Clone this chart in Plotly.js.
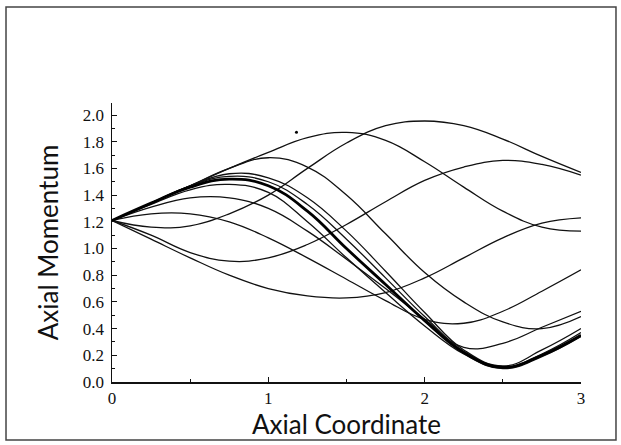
<!DOCTYPE html>
<html>
<head>
<meta charset="utf-8">
<script src="https://cdn.plot.ly/plotly-3.0.1.min.js"></script>
<style>html,body{margin:0;padding:0;background:#fff;}#chart{width:621px;height:445px;}</style>
</head>
<body>
<div id="chart"></div>
<script>
// Axial coordinate samples (shared by all curves)
const xs = [0, 0.25, 0.5, 0.75, 1.0, 1.25, 1.5, 1.75, 2.0, 2.25, 2.5, 2.75, 3.0];

// Axial momentum for each trajectory
const curveA  = [1.21, 1.16, 1.17, 1.26, 1.40, 1.60, 1.79, 1.92, 1.955, 1.92, 1.82, 1.69, 1.57];
const curveB  = [1.21, 1.34, 1.47, 1.60, 1.72, 1.83, 1.87, 1.81, 1.65, 1.46, 1.28, 1.16, 1.13];
const curveC  = [1.21, 1.34, 1.47, 1.60, 1.68, 1.61, 1.40, 1.11, 0.82, 0.60, 0.45, 0.40, 0.49];
const curveD  = [1.21, 1.10, 0.97, 0.905, 0.93, 1.03, 1.18, 1.35, 1.51, 1.61, 1.66, 1.63, 1.55];
const curveE  = [1.21, 1.07, 0.93, 0.80, 0.70, 0.645, 0.63, 0.67, 0.78, 0.93, 1.08, 1.19, 1.23];
const curveF  = [1.21, 1.31, 1.38, 1.38, 1.30, 1.13, 0.92, 0.70, 0.47, 0.26, 0.29, 0.41, 0.53];
const curveG  = [1.21, 1.26, 1.26, 1.20, 1.08, 0.93, 0.77, 0.61, 0.47, 0.44, 0.53, 0.68, 0.84];
const curveB1 = [1.21, 1.34, 1.47, 1.56, 1.53, 1.38, 1.13, 0.83, 0.52, 0.24, 0.12, 0.24, 0.40];
const curveB2 = [1.21, 1.34, 1.47, 1.54, 1.50, 1.33, 1.07, 0.78, 0.49, 0.23, 0.11, 0.21, 0.37];
const curveB3 = [1.21, 1.34, 1.46, 1.52, 1.47, 1.28, 1.00, 0.73, 0.46, 0.22, 0.11, 0.20, 0.35];
const curveB4 = [1.21, 1.33, 1.44, 1.48, 1.42, 1.20, 0.93, 0.67, 0.42, 0.21, 0.10, 0.19, 0.34];

// stray dot in the scan
const dotX = [1.18];
const dotY = [1.87];

const thin = [curveA, curveB, curveC, curveD, curveE, curveF, curveG, curveB1, curveB2, curveB4];
const traces = thin.map(y => ({
  x: xs, y: y, type: 'scatter', mode: 'lines',
  line: {color: '#111', width: 1.3, shape: 'spline', smoothing: 1.2},
  hoverinfo: 'skip'
}));
traces.push({
  x: xs, y: curveB3, type: 'scatter', mode: 'lines',
  line: {color: '#000', width: 2.8, shape: 'spline', smoothing: 1.2},
  hoverinfo: 'skip'
});
traces.push({
  x: dotX, y: dotY, type: 'scatter', mode: 'markers',
  marker: {color: '#000', size: 3}, hoverinfo: 'skip'
});

const tickFont = {family: 'Liberation Serif, DejaVu Serif, serif', size: 17, color: '#111'};
const titleFont = {family: 'Lato, DejaVu Sans, sans-serif', size: 26, color: '#111'};

const layout = {
  width: 621, height: 445,
  margin: {l: 112, r: 40, t: 103, b: 63},
  paper_bgcolor: '#fff', plot_bgcolor: '#fff',
  showlegend: false,
  xaxis: {
    range: [0, 3], tick0: 0, dtick: 1,
    showgrid: false, zeroline: false,
    showline: true, linecolor: '#111', linewidth: 1.5,
    ticks: 'inside', ticklen: 5, tickwidth: 1, tickcolor: '#111',
    minor: {dtick: 0.5, ticks: 'inside', ticklen: 3, tickcolor: '#111', showgrid: false},
    tickfont: tickFont,
    title: {text: 'Axial Coordinate', font: titleFont, standoff: 6}
  },
  yaxis: {
    range: [0, 2.09], tick0: 0, dtick: 0.2, tickformat: '.1f',
    showgrid: false, zeroline: false,
    showline: true, linecolor: '#111', linewidth: 1.5,
    ticks: 'inside', ticklen: 5, tickwidth: 1, tickcolor: '#111',
    ticklabelstandoff: 3,
    minor: {dtick: 0.1, ticks: 'inside', ticklen: 2.5, tickcolor: '#111', showgrid: false},
    tickfont: tickFont,
    title: {text: 'Axial Momentum', font: titleFont, standoff: 16}
  },
  shapes: [{
    type: 'rect', xref: 'paper', yref: 'paper',
    x0: -0.226, x1: 1.0746, y0: -0.208, y1: 1.344,
    line: {color: '#444', width: 1.5}, fillcolor: 'rgba(0,0,0,0)'
  }]
};

Plotly.newPlot('chart', traces, layout, {staticPlot: true, displayModeBar: false});
</script>
</body>
</html>
